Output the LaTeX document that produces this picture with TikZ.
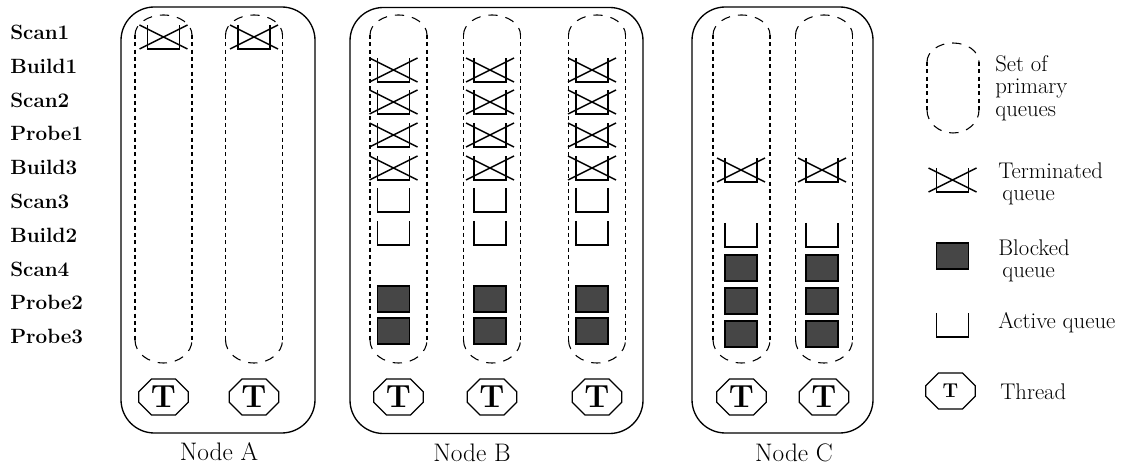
\documentclass[tikz,border=0pt]{standalone}
\usepackage{tikz}
\usetikzlibrary{positioning,shapes.misc}
\definecolor{blockGray}{RGB}{70,70,70}
\tikzset{
  rowlabel/.style={anchor=west, font=\fontsize{15.5}{18}\selectfont\bfseries, inner sep=0pt},
  keytext/.style={anchor=west, align=left, font=\fontsize{17}{17}\selectfont, inner sep=0pt},
  nodename/.style={anchor=base, font=\fontsize{19}{20}\selectfont, inner sep=0pt},
  nodebox/.style={draw, line width=1pt, rounded corners=25pt, minimum height=319.5pt},
  thread/.style={draw, line width=.9pt, chamfered rectangle, chamfered rectangle xsep=5pt,
                 chamfered rectangle ysep=4.5pt, inner sep=0pt, minimum width=37pt,
                 minimum height=27pt, font=\fontsize{24}{24}\selectfont\bfseries},
  laneside/.style={line width=.8pt, dash pattern=on 3pt off 2.5pt},
  lanecap/.style={line width=.8pt, dash pattern=on 7pt off 6pt},
  cupline/.style={line width=1.1pt},
  blockfill/.style={draw, line width=.8pt, fill=blockGray},
  pics/lane/.style={code={
    \draw[laneside] (-28.5,35) -- (-28.5,340) (28.5,35) -- (28.5,340);
    \draw[lanecap] (-28.5,35) arc[start angle=180, end angle=360, x radius=28.5, y radius=20];
    \draw[lanecap] (-28.5,340) arc[start angle=180, end angle=0, x radius=28.5, y radius=23];
  }},
  pics/activeq/.style={code={
    \draw[cupline] (-16,-12) -- (-16,12) -- (16,12) -- (16,-12);
  }},
  pics/termq/.style={code={
    \draw[cupline] (-16,-12) -- (-16,12) -- (16,12) -- (16,-12);
    \draw[cupline] (-24,-12) -- (24,12) (-24,12) -- (24,-12);
  }},
  pics/blockq/.style={code={
    \draw[blockfill] (-16,-13) rectangle (16,13);
  }}
}

\begin{document}
\begin{tikzpicture}[x=.75pt, y=-.75pt]
  \useasboundingbox (0,0) rectangle (1121,466);
  % query rows
  \node[rowlabel] (r1) at (10,32) {Scan1};
  \node[rowlabel] (r2) at (10,66) {Build1};
  \node[rowlabel] (r3) at (10,100) {Scan2};
  \node[rowlabel] (r4) at (10,133) {Probe1};
  \node[rowlabel] (r5) at (10,167) {Build3};
  \node[rowlabel] (r6) at (10,201) {Scan3};
  \node[rowlabel] (r7) at (10,235) {Build2};
  \node[rowlabel] (r8) at (10,269) {Scan4};
  \node[rowlabel] (r9) at (10,302) {Probe2};
  \node[rowlabel] (r10) at (10,336) {Probe3};

  % nodes
  \node[nodebox, minimum width=145.5pt] (nodeA) at (218,220) {};
  \node[nodebox, minimum width=219.75pt] (nodeB) at (496.5,220.5) {};
  \node[nodebox, minimum width=135.75pt] (nodeC) at (782.5,220) {};
  \node[nodename] (nameA) at (219,460) {Node A};
  \node[nodename] (nameB) at (472,461) {Node B};
  \node[nodename] (nameC) at (794,461) {Node C};

  % node A
  \pic at (163.5,0) {lane};
  \pic at (254,0) {lane};
  \pic at (163.5,37) {termq};
  \pic at (254,37) {termq};
  \node[thread] (tA1) at (163.5,397) {T};
  \node[thread] (tA2) at (254,397) {T};

  % node B
  \pic at (398.5,0) {lane};
  \pic at (492,0) {lane};
  \pic at (597,0) {lane};
  \pic at (393.5,70) {termq};
  \pic at (393.5,102) {termq};
  \pic at (393.5,135) {termq};
  \pic at (393.5,168) {termq};
  \pic at (393.5,200) {activeq};
  \pic at (393.5,233) {activeq};
  \pic at (393.5,299) {blockq};
  \pic at (393.5,331) {blockq};
  \pic at (490,70) {termq};
  \pic at (490,102) {termq};
  \pic at (490,135) {termq};
  \pic at (490,168) {termq};
  \pic at (490,200) {activeq};
  \pic at (490,233) {activeq};
  \pic at (490,299) {blockq};
  \pic at (490,331) {blockq};
  \pic at (592,70) {termq};
  \pic at (592,102) {termq};
  \pic at (592,135) {termq};
  \pic at (592,168) {termq};
  \pic at (592,200) {activeq};
  \pic at (592,233) {activeq};
  \pic at (592,299) {blockq};
  \pic at (592,331) {blockq};
  \node[thread] (tB1) at (398.5,397) {T};
  \node[thread] (tB2) at (492,397) {T};
  \node[thread] (tB3) at (597,397) {T};

  % node C
  \pic at (741.5,0) {lane};
  \pic at (824,0) {lane};
  \pic at (741,170) {termq};
  \pic at (741,235) {activeq};
  \pic at (741,268) {blockq};
  \pic at (741,301) {blockq};
  \pic at (741,334) {blockq};
  \pic at (822,170) {termq};
  \pic at (822,235) {activeq};
  \pic at (822,268) {blockq};
  \pic at (822,301) {blockq};
  \pic at (822,334) {blockq};
  \node[thread] (tC1) at (741.5,397) {T};
  \node[thread] (tC2) at (824,397) {T};

  % key
  \draw[laneside] (927,62) -- (927,110) (979,62) -- (979,110);
  \draw[lanecap] (927,62) arc[start angle=180, end angle=360, x radius=26, y radius=19];
  \draw[lanecap] (927,110) arc[start angle=180, end angle=0, x radius=26, y radius=23];
  \node[keytext] (kSet) at (995,88) {Set of\\primary\\queues};
  \pic at (952.5,180) {termq};
  \node[keytext] (kTerm) at (998,184) {Terminated\\\hspace{3pt}queue};
  \pic at (952.5,256) {blockq};
  \node[keytext] (kBlock) at (998,261) {Blocked\\\hspace{3pt}queue};
  \pic at (952.5,325) {activeq};
  \node[keytext] (kActive) at (998,323) {Active queue};
  \node[thread, font=\fontsize{15}{15}\selectfont\bfseries] (kThread) at (950.5,391) {T};
  \node[keytext] (kThreadText) at (1000,392) {Thread};
\end{tikzpicture}
\end{document}
